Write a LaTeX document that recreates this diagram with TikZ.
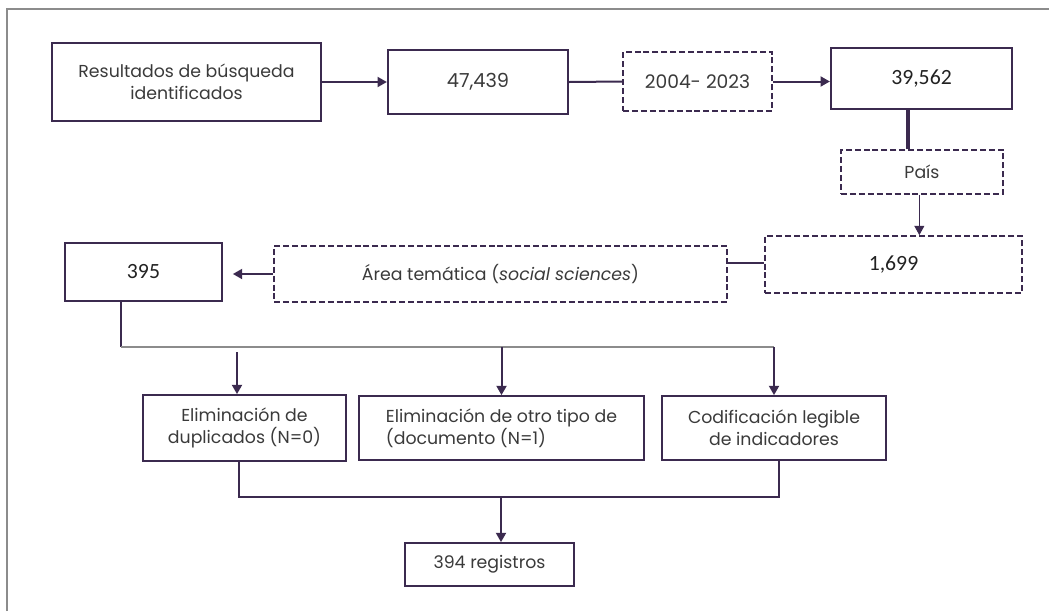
\documentclass[tikz,border=0pt]{standalone}
\usepackage{fontspec}
\setmainfont{Poppins}
\newfontfamily\numfont{Carlito}
\usetikzlibrary{arrows.meta}
\definecolor{plum}{HTML}{3B2A4F}
\definecolor{framegray}{HTML}{8C8C8C}
\definecolor{txt}{HTML}{3A3A3A}
\definecolor{numtxt}{HTML}{222222}
\tikzset{
  solidbox/.style={draw=plum, line width=1.3pt, inner sep=0pt, align=center},
  boldbox/.style={draw=plum, line width=1.7pt, inner sep=0pt, align=center},
  dashbox/.style={draw=plum, line width=1.3pt, dash pattern=on 4.5pt off 2.2pt, inner sep=0pt, align=center},
  conn/.style={draw=plum, line width=1.5pt},
  arr/.style={conn, -{Triangle[length=7pt,width=7.5pt]}},
  thinarr/.style={draw=plum, line width=0.8pt, -{Triangle[length=7pt,width=7.5pt]}},
  thickconn/.style={draw=plum, line width=3pt},
  grayconn/.style={draw=framegray, line width=1.1pt},
  frameline/.style={draw=framegray, line width=1.1pt},
  numtext/.style={font=\numfont\fontsize{16.3}{18}\selectfont, text=numtxt},
}
\begin{document}
\begin{tikzpicture}[x=0.75pt,y=-0.75pt, font=\fontsize{13}{16.5}\selectfont, text=txt]
\useasboundingbox (0,0) rectangle (1049,611);
\draw[frameline] (7,611) -- (7,9) -- (1049,9);

% top row
\node[solidbox, minimum width={269*0.75pt}, minimum height={78*0.75pt}] (A) at (186.5,82) {Resultados de búsqueda\\identificados};
\node[boldbox, font=\fontsize{14.5}{17}\selectfont, minimum width={180*0.75pt}, minimum height={64*0.75pt}] (B) at (478,82) {47,439};
\node[dashbox, font=\fontsize{14}{16}\selectfont, minimum width={149*0.75pt}, minimum height={59*0.75pt}] (C) at (697.5,81.5) {2004- 2023};
\node[boldbox, numtext, minimum width={181*0.75pt}, minimum height={61*0.75pt}] (D) at (921.5,78.5) {39,562};
\node[dashbox, minimum width={162*0.75pt}, minimum height={44*0.75pt}] (E) at (922,172) {País};
\node[dashbox, numtext, minimum width={257*0.75pt}, minimum height={57*0.75pt}] (F) at (893.5,264.5) {1,699};
\node[dashbox, minimum width={453*0.75pt}, minimum height={56*0.75pt}] (G) at (500.5,274) {Área temática (\textit{social sciences})};
\node[solidbox, numtext, minimum width={157*0.75pt}, minimum height={58*0.75pt}] (H) at (143.5,272) {395};

% bottom row
\node[solidbox, minimum width={203*0.75pt}, minimum height={66*0.75pt}] (I) at (244.5,428) {Eliminación de\\duplicados (N=0)};
\node[solidbox, align=left, minimum width={285*0.75pt}, minimum height={64*0.75pt}] (J) at (501.5,428) {Eliminación de otro tipo de\\(documento (N=1)};
\node[solidbox, minimum width={224*0.75pt}, minimum height={64*0.75pt}] (K) at (774,428) {Codificación legible\\de indicadores};
\node[solidbox, minimum width={169*0.75pt}, minimum height={43*0.75pt}] (L) at (489.5,564.5) {394 registros};

% connectors top
\draw[arr] (A.east) -- (B.west);
\draw[conn] (B.east) -- (C.west);
\draw[arr] (C.east) -- (C.east -| D.west);
\draw[thickconn] ([xshift=-10pt]D.south) -- ([xshift=-10pt]D.south |- E.north);
\draw[thinarr] ([xshift=-2pt]E.south) -- ([xshift=-2pt]E.south |- F.north);
\draw[conn] ([yshift=1pt]F.west) -- ([yshift=1pt]F.west -| G.east);
\draw[arr] (G.west) -- ([xshift=7.5pt]H.east |- G.west);

% split
\coordinate (split) at (121,347);
\coordinate (a1) at (237,352);
\draw[conn] (H.south -| split) -- (split);
\draw[grayconn] (split) -- (K.north |- split);
\draw[arr] (a1) -- (a1 |- I.north);
\draw[arr] (J.north |- split) -- (J.north);
\draw[arr] (K.north |- split) -- (K.north);

% join
\coordinate (join) at (501,497);
\draw[conn] ([xshift=-4pt]I.south) -- ([xshift=-4pt]I.south |- join) -| ([xshift=4pt]K.south);
\draw[arr] (join) -- (join |- L.north);
\end{tikzpicture}
\end{document}
